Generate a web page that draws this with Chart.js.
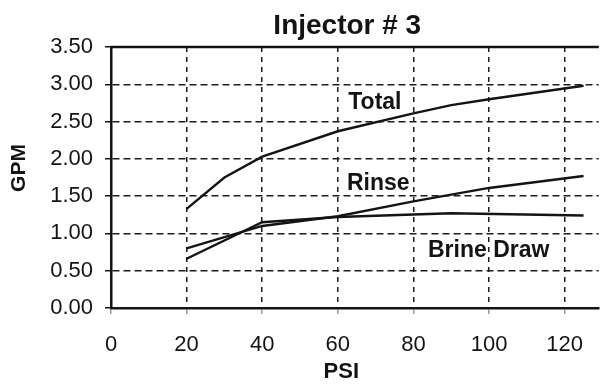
<!DOCTYPE html>
<html>

<head>
    <title>Injector # 3</title>
    <style>
        body {
            margin: 0;
            background: #ffffff;
            overflow: hidden;
        }

        .chart {
            width: 601px;
            height: 386px;
        }
    </style>
</head>

<body>
    <div class="chart">
        <canvas id="injectorChart"></canvas>
    </div>

    <script src="https://cdn.jsdelivr.net/npm/chart.js"></script>
    <script>
        // eixo X (PSI) e eixo Y (GPM)
        var psiTicks = [0, 20, 40, 60, 80, 100, 120];
        var gpmTicks = [0, 0.5, 1, 1.5, 2, 2.5, 3, 3.5];

        // curvas do injetor
        var totalPsi = [20, 30, 40, 60, 80, 90, 100, 125];
        var totalGpm = [1.33, 1.75, 2.03, 2.37, 2.61, 2.72, 2.80, 2.98];

        var rinsePsi = [20, 40, 60, 80, 100, 125];
        var rinseGpm = [0.80, 1.10, 1.23, 1.43, 1.61, 1.77];

        var brinePsi = [20, 40, 60, 90, 125];
        var brineGpm = [0.66, 1.15, 1.22, 1.27, 1.24];

        var seriesNames = ['Total', 'Rinse', 'Brine Draw'];

        function toPoints(xs, ys) {
            var pts = [];
            xs.forEach(function (x, i) {
                pts.push({ x: x, y: ys[i] });
            });
            return pts;
        }

        var font = '"Liberation Sans", Arial, sans-serif';
        var ink = '#141414';

        // nomes das curvas escritos dentro do grafico (coordenadas em PSI / GPM)
        var curveLabels = [
            { text: seriesNames[0], x: 69.8, y: 2.75 },
            { text: seriesNames[1], x: 70.7, y: 1.67 },
            { text: seriesNames[2], x: 99.9, y: 0.765 }
        ];

        var textPlugin = {
            id: 'injectorText',
            afterDraw: function (chart) {
                var ctx = chart.ctx;
                var area = chart.chartArea;
                var xs = chart.scales.x;
                var ys = chart.scales.y;
                ctx.save();
                ctx.fillStyle = ink;
                ctx.textAlign = 'center';
                ctx.textBaseline = 'middle';

                // borda superior solida
                ctx.strokeStyle = ink;
                ctx.lineWidth = 2.5;
                ctx.beginPath();
                ctx.moveTo(area.left, area.top);
                ctx.lineTo(area.right, area.top);
                ctx.stroke();

                ctx.font = 'bold 23px ' + font;
                curveLabels.forEach(function (l) {
                    ctx.fillText(l.text, xs.getPixelForValue(l.x), ys.getPixelForValue(l.y));
                });

                // titulo e nomes dos eixos, centrados no trecho 0-125 PSI
                var mid = xs.getPixelForValue(62.5);
                ctx.font = 'bold 28px ' + font;
                ctx.fillText('Injector # 3', mid, 26);

                ctx.font = 'bold 22px ' + font;
                ctx.fillText('PSI', mid - 6, 372);

                ctx.translate(19, 168);
                ctx.rotate(-Math.PI / 2);
                ctx.font = 'bold 21px ' + font;
                ctx.fillText('GPM', 0, 0);
                ctx.restore();
            }
        };

        var lineStyle = {
            borderColor: ink,
            borderWidth: 2.4,
            pointRadius: 0,
            tension: 0,
            fill: false
        };

        var ctx = document.getElementById('injectorChart').getContext('2d');
        var injectorChart = new Chart(ctx, {
            type: 'line',
            data: {
                datasets: [
                    Object.assign({ label: seriesNames[0], data: toPoints(totalPsi, totalGpm) }, lineStyle),
                    Object.assign({ label: seriesNames[1], data: toPoints(rinsePsi, rinseGpm) }, lineStyle),
                    Object.assign({ label: seriesNames[2], data: toPoints(brinePsi, brineGpm) }, lineStyle)
                ]
            },
            options: {
                responsive: true,
                maintainAspectRatio: false,
                animation: false,
                layout: {
                    padding: { left: 49, top: 47, right: 0, bottom: 26 }
                },
                plugins: {
                    legend: { display: false },
                    title: { display: false },
                    tooltip: { enabled: false }
                },
                scales: {
                    x: {
                        type: 'linear',
                        min: 0,
                        max: 129,
                        afterBuildTicks: function (scale) {
                            scale.ticks = psiTicks.map(function (v) { return { value: v }; });
                        },
                        afterFit: function (scale) {
                            scale.height = 52;
                        },
                        grid: {
                            color: '#1c1c1c',
                            lineWidth: 1.5,
                            tickLength: 6,
                            tickColor: '#999'
                        },
                        border: {
                            display: true,
                            color: ink,
                            width: 2.5,
                            dash: [5, 5]
                        },
                        ticks: {
                            padding: 18,
                            color: ink,
                            font: { family: font, size: 22 },
                            maxRotation: 0
                        }
                    },
                    y: {
                        min: 0,
                        max: 3.5,
                        afterBuildTicks: function (scale) {
                            scale.ticks = gpmTicks.map(function (v) { return { value: v }; });
                        },
                        afterFit: function (scale) {
                            scale.width = 62;
                        },
                        grid: {
                            color: '#1c1c1c',
                            lineWidth: 1.5,
                            tickLength: 6,
                            tickColor: ink
                        },
                        border: {
                            display: true,
                            color: ink,
                            width: 2.5,
                            dash: [7, 4]
                        },
                        ticks: {
                            padding: 12,
                            color: ink,
                            font: { family: font, size: 22 },
                            callback: function (value) {
                                return value.toFixed(2);
                            }
                        }
                    }
                }
            },
            plugins: [textPlugin]
        });
    </script>
</body>

</html>
